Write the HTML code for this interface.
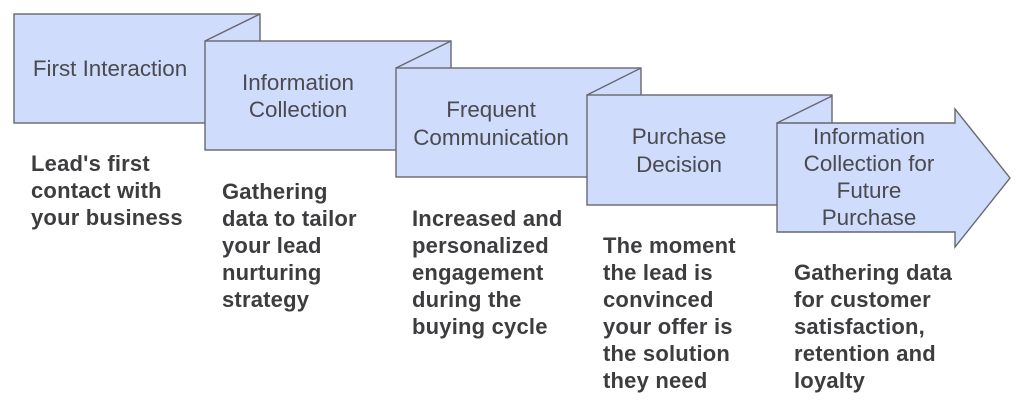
<!DOCTYPE html>
<html>
<head>
<meta charset="utf-8">
<style>
  html, body { margin: 0; padding: 0; background: #ffffff; }
  body { width: 1024px; height: 410px; overflow: hidden; }
  svg { display: block; }
  .t { font-family: "Liberation Sans", Arial, sans-serif; font-size: 22.4px; fill: #4a4a4f; }
  .d { font-family: "Liberation Sans", Arial, sans-serif; font-size: 22px; font-weight: bold; fill: #3d3d40; letter-spacing: 0.2px; }
</style>
</head>
<body>
<svg width="1024" height="410" viewBox="0 0 1024 410" xmlns="http://www.w3.org/2000/svg">
  <g fill="#cfdcfc" stroke="#67676f" stroke-width="1.4" stroke-linejoin="miter">
    <rect x="14" y="14" width="246" height="109"/>
    <line x1="205" y1="41" x2="260" y2="14"/>
    <rect x="205" y="41" width="246" height="109"/>
    <line x1="396" y1="68" x2="451" y2="41"/>
    <rect x="396" y="68" width="245" height="109"/>
    <line x1="587" y1="95" x2="641" y2="68"/>
    <rect x="587" y="95" width="245" height="110"/>
    <line x1="777" y1="123" x2="832" y2="96"/>
    <polygon points="777,123 955,123 955,109 1010,178 955,247 955,232 777,232"/>
  </g>

  <g class="t" text-anchor="middle">
    <text x="110" y="76">First Interaction</text>
    <text x="298" y="90">Information</text>
    <text x="298" y="117">Collection</text>
    <text x="491" y="117">Frequent</text>
    <text x="491" y="145">Communication</text>
    <text x="679" y="144">Purchase</text>
    <text x="679" y="172">Decision</text>
    <text x="869" y="144">Information</text>
    <text x="869" y="171">Collection for</text>
    <text x="869" y="198">Future</text>
    <text x="869" y="225">Purchase</text>
  </g>

  <g class="d">
    <text x="31" y="171">Lead's first</text>
    <text x="31" y="198">contact with</text>
    <text x="31" y="225">your business</text>

    <text x="222" y="199">Gathering</text>
    <text x="222" y="226">data to tailor</text>
    <text x="222" y="253">your lead</text>
    <text x="222" y="280">nurturing</text>
    <text x="222" y="307">strategy</text>

    <text x="412" y="226">Increased and</text>
    <text x="412" y="253">personalized</text>
    <text x="412" y="280">engagement</text>
    <text x="412" y="307">during the</text>
    <text x="412" y="334">buying cycle</text>

    <text x="603" y="253">The moment</text>
    <text x="603" y="280">the lead is</text>
    <text x="603" y="307">convinced</text>
    <text x="603" y="334">your offer is</text>
    <text x="603" y="361">the solution</text>
    <text x="603" y="388">they need</text>

    <text x="794" y="280">Gathering data</text>
    <text x="794" y="307">for customer</text>
    <text x="794" y="334">satisfaction,</text>
    <text x="794" y="361">retention and</text>
    <text x="794" y="388">loyalty</text>
  </g>
</svg>
</body>
</html>
